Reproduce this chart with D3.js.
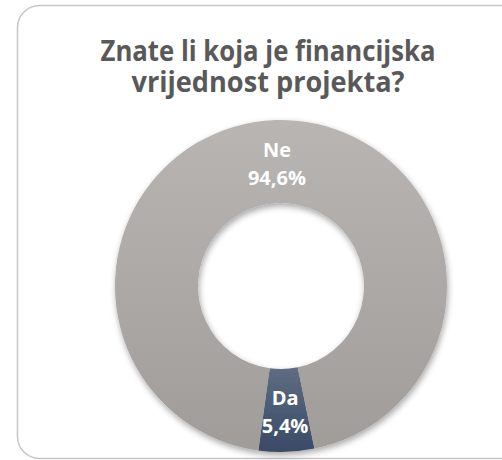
<!DOCTYPE html>
<html>
<head lang="hr">
	<meta charset="UTF-8">
	<title>Financijska vrijednost projekta</title>
	<style>
	body { margin: 0; background: #fff; }
	.title { font-family: "Open Sans", sans-serif; font-weight: bold; fill: #595959; }
	.lbl { font-family: "Open Sans", sans-serif; font-weight: bold; fill: #fff; }
	</style>
	<script src="https://cdn.jsdelivr.net/npm/d3@7"></script>
</head>
<body>
<script>
	var categories = ["Da", "Ne"];
	var values = [5.4, 94.6];
	var colors = {
		"Da": ["#5e6c82", "#3a4a66"],
		"Ne": ["#b8b5b3", "#a09c9a"]
	};
	var titleLines = ["Znate li koja je financijska", "vrijednost projekta?"];
	var titleWidths = [335, 273]; // measured widths of the two title lines

	var width = 502, height = 460;
	var cx = 281, cy = 286, outerR = 166, innerR = 83;

	var svg = d3.select("body").append("svg")
		.attr("width", width)
		.attr("height", height);

	var defs = svg.append("defs");

	// soft shadow under the ring (also falls into the top of the hole)
	defs.append("filter")
		.attr("id", "shadow")
		.attr("x", "-20%").attr("y", "-20%")
		.attr("width", "140%").attr("height", "140%")
		.append("feDropShadow")
		.attr("dx", 1).attr("dy", 3)
		.attr("stdDeviation", 3)
		.attr("flood-color", "#000")
		.attr("flood-opacity", 0.35);

	// vertical gradients, in the ring's local coordinates
	defs.selectAll("linearGradient")
		.data(categories)
		.enter().append("linearGradient")
		.attr("id", function(c){ return "grad-" + c; })
		.attr("gradientUnits", "userSpaceOnUse")
		.attr("x1", 0).attr("x2", 0)
		.attr("y1", function(c){ return c === "Da" ? innerR : -outerR; })
		.attr("y2", outerR)
		.each(function(c){
			var gr = d3.select(this);
			gr.append("stop").attr("offset", "0%").attr("stop-color", colors[c][0]);
			gr.append("stop").attr("offset", "100%").attr("stop-color", colors[c][1]);
		});

	// frame
	svg.append("rect")
		.attr("x", 17.5).attr("y", 5.5)
		.attr("width", 520).attr("height", 453)
		.attr("rx", 22).attr("ry", 22)
		.attr("fill", "none")
		.attr("stroke", "#c6c6c6")
		.attr("stroke-width", 1.5);

	// title (one text, two lines)
	svg.append("text")
		.attr("class", "title")
		.attr("text-anchor", "middle")
		.style("font-size", "29px")
		.selectAll("tspan")
		.data(titleLines)
		.enter().append("tspan")
		.attr("x", 268)
		.attr("y", function(d, i){ return 61 + i * 31; })
		.attr("textLength", function(d, i){ return titleWidths[i]; })
		.attr("lengthAdjust", "spacingAndGlyphs")
		.text(function(d){ return d; });

	var data = categories.map(function(c, i){ return {name: c, value: values[i]}; });

	var pie = d3.pie()
		.sort(null)
		.value(function(d){ return d.value; })
		.startAngle(168.4 * Math.PI / 180)
		.endAngle(168.4 * Math.PI / 180 + 2 * Math.PI);

	var arc = d3.arc().innerRadius(innerR).outerRadius(outerR);
	var labelArc = d3.arc().innerRadius((innerR + outerR) / 2).outerRadius((innerR + outerR) / 2);

	var g = svg.append("g").attr("transform", "translate(" + cx + "," + cy + ")");

	g.append("g")
		.attr("filter", "url(#shadow)")
		.selectAll("path")
		.data(pie(data))
		.enter().append("path")
		.attr("d", arc)
		.attr("fill", function(d){ return "url(#grad-" + d.data.name + ")"; });

	var fmt = function(v){ return v.toFixed(1).replace(".", ",") + "%"; };

	var labels = g.selectAll("text.lbl")
		.data(pie(data))
		.enter().append("text")
		.attr("class", "lbl")
		.attr("text-anchor", "middle")
		.style("font-size", "20px")
		.attr("transform", function(d){
			var c = labelArc.centroid(d);
			return "translate(" + c[0] + "," + c[1] + ")";
		});

	labels.append("tspan")
		.attr("x", 0).attr("y", -5)
		.text(function(d){ return d.data.name; });
	labels.append("tspan")
		.attr("x", 0).attr("y", 23)
		.text(function(d){ return fmt(d.data.value); });
</script>
</body>
</html>
